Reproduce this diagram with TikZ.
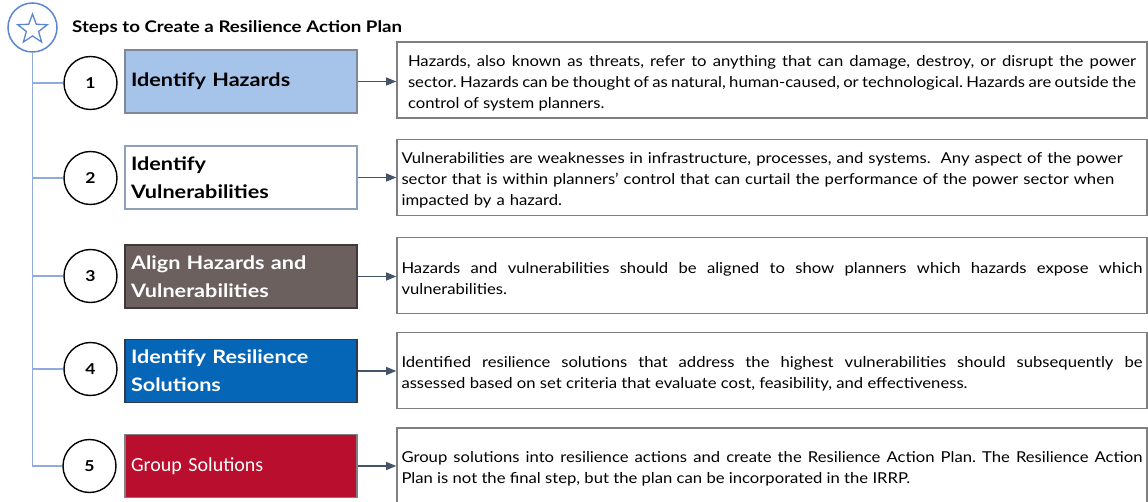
\documentclass[tikz,border=0pt]{standalone}
\usepackage{fontspec}
\setmainfont{Lato}
\newfontfamily\descfont{Lato}[FakeStretch=1.11]
\newfontfamily\headfont{Lato}[FakeStretch=1.17]
\newfontfamily\calfont{Carlito}
\usetikzlibrary{arrows.meta,shapes.geometric}
\frenchspacing

\definecolor{branchblue}{HTML}{8FAADC}
\definecolor{starblue}{HTML}{5B86D0}
\definecolor{slate}{HTML}{44546A}
\definecolor{lightblue}{HTML}{A6C3EA}
\definecolor{taupe}{HTML}{6B605D}
\definecolor{midblue}{HTML}{0566B8}
\definecolor{crimson}{HTML}{B90E2E}
\definecolor{boxgray}{HTML}{7F7F7F}
\definecolor{edgeone}{HTML}{7F8897}
\definecolor{edgetwo}{HTML}{8EA0BA}
\definecolor{edgethree}{HTML}{3F3A38}
\definecolor{edgefour}{HTML}{2E3A4A}

% extra room above the first line of a description
\newcommand\descgap{\rule{0pt}{17pt}}

\tikzset{
  branch/.style={draw=branchblue, line width=1.3pt},
  stepnum/.style={circle, draw=black, line width=1.4pt, minimum size=53pt,
    inner sep=0pt, font=\fontsize{15}{18}\selectfont\headfont\bfseries},
  stepbox/.style={rectangle, line width=1.3pt, minimum width=232pt, minimum height=63pt,
    text width=220pt, inner xsep=6pt, align=left,
    font=\fontsize{18.5}{28}\selectfont\headfont\bfseries},
  descbox/.style={rectangle, draw=boxgray, line width=1.6pt, minimum width=750pt,
    minimum height=76pt, text width=741pt, inner xsep=4.5pt, align=justify,
    font=\fontsize{15}{21}\selectfont\descfont},
  arr/.style={draw=slate, line width=1.2pt, -{Triangle[length=10pt,width=8pt]}},
}

\begin{document}
\begin{tikzpicture}[x=1pt,y=-1pt]
\useasboundingbox[fill=white] (0,0) rectangle (1148,502);

% header badge and title
\node[circle, draw=starblue, line width=1.5pt, minimum size=49pt, inner sep=0pt] (badge) at (32.5,27.5) {};
\node[star, star points=5, star point ratio=2.4, draw=starblue, line width=1.3pt,
  minimum size=31pt, inner sep=0pt] (badgestar) at (32.5,29.5) {};
\node[anchor=west, inner sep=0pt, font=\fontsize{16}{19}\selectfont\headfont\bfseries] (title) at (72,28)
  {Steps to Create a Resilience Action Plan};

% numbered steps
\node[stepnum] (c1) at (90.5,83) {1};
\node[stepnum] (c2) at (90.5,178) {2};
\node[stepnum] (c3) at (90.5,276) {3};
\node[stepnum] (c4) at (90.5,369) {4};
\node[stepnum] (c5) at (89.5,466) {5};

% step boxes
\node[stepbox, draw=edgeone, fill=lightblue] (b1) at (241,81.5) {Identify Hazards};
\node[stepbox, draw=edgetwo, fill=white] (b2) at (241,177.5) {Identify\\Vulnerabilities};
\node[stepbox, draw=edgethree, fill=taupe, text=white] (b3) at (241,276.5) {Align Hazards and\\Vulnerabilities};
\node[stepbox, draw=edgefour, fill=midblue, text=white] (b4) at (241,371) {Identify Resilience\\Solutions};
\node[stepbox, draw=boxgray, fill=crimson, text=white, font=\fontsize{20}{28}\selectfont\calfont] (b5) at (241,466) {Group Solutions};

% description boxes
\node[descbox, text width=728pt, inner xsep=11pt] (d1) at (772,80)
  {\descgap Hazards, also known as threats, refer to anything that can damage, destroy, or disrupt the power\linebreak
   sector. Hazards can be thought of as natural, human-caused, or technological. Hazards are outside the\linebreak
   control of system planners.};
\node[descbox, align=left] (d2) at (772,177.5)
  {\descgap Vulnerabilities are weaknesses in infrastructure, processes, and systems.\ \ Any aspect of the power\\
   sector that is within planners’ control that can curtail the performance of the power sector when\\
   impacted by a hazard.};
\node[descbox] (d3) at (772,275.5)
  {\descgap Hazards and vulnerabilities should be aligned to show planners which hazards expose which\linebreak
   vulnerabilities.};
\node[descbox] (d4) at (772,370.5)
  {\descgap Identified resilience solutions that address the highest vulnerabilities should subsequently be\linebreak
   assessed based on set criteria that evaluate cost, feasibility, and effectiveness.};
\node[descbox] (d5) at (772,466)
  {\descgap Group solutions into resilience actions and create the Resilience Action Plan. The Resilience Action\linebreak
   Plan is not the final step, but the plan can be incorporated in the IRRP.};

% branch lines
\draw[branch] (badge.south) |- (c5.west);
\foreach \i in {1,2,3,4} {\draw[branch] (badge.south |- c\i.west) -- (c\i.west);}

% connectors
\foreach \i in {1,...,5} {\draw[arr] (b\i.east) -- (b\i.east -| d\i.west);}
\end{tikzpicture}
\end{document}
